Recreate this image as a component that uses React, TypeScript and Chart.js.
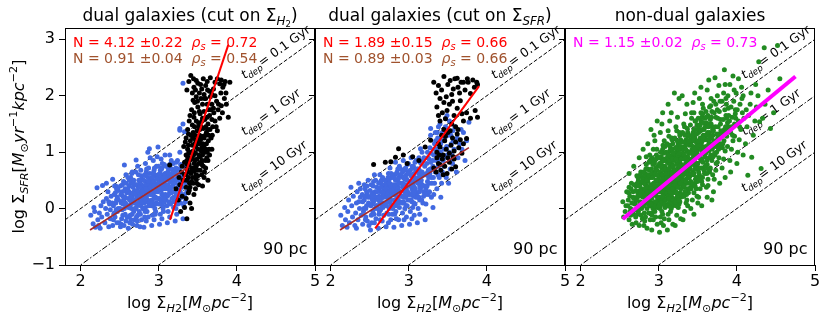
import { useEffect, useRef } from 'react';
import { Chart, registerables } from 'chart.js';

Chart.register(...registerables);

const FONT = '"DejaVu Sans", "Liberation Sans", sans-serif';
const CW = 830;
const CH = 322;

// ---- axes ----
const xTicks = [2, 3, 4, 5];
const yTicks = [-1, 0, 1, 2, 3];
const xMin = 1.8;
const xMax = 5;
const yMin = -1;
const yMax = 3.2;

// ---- depletion-time reference lines ----
const tdepGyr = [0.1, 1, 10];
const tdepNames = ['0.1 Gyr', '1 Gyr', '10 Gyr'];
const tdepLabelX = 4.1;

// ---- scatter data (flat x, y pairs) ----
const dualH2Blue = [
  2.13,-0.12, 2.16,-0.27, 2.18,-0.05, 2.19,-0.33, 2.17,0.02,
  2.21,0.37, 2.22,-0.2, 2.24,-0.08, 2.23,-0.3, 2.26,0.05, 2.27,-0.15, 2.28,0.41, 2.25,-0.35, 2.29,0.12,
  2.31,-0.25, 2.32,0.0, 2.33,0.18, 2.34,-0.1, 2.35,0.3, 2.36,-0.32, 2.37,0.08, 2.38,-0.18, 2.39,0.22, 2.33,0.45, 2.36,0.12, 2.38,-0.02,
  2.41,-0.3, 2.42,0.05, 2.43,0.25, 2.44,-0.15, 2.45,0.4, 2.46,0.15, 2.47,-0.05, 2.48,0.32, 2.49,-0.25, 2.41,0.52, 2.43,-0.08, 2.45,0.1, 2.47,0.2, 2.42,-0.2, 2.48,0.0, 2.46,0.35,
  2.51,-0.32, 2.52,0.1, 2.53,0.3, 2.54,-0.12, 2.55,0.48, 2.56,0.77, 2.57,0.2, 2.58,-0.22, 2.59,0.05, 2.51,0.4, 2.53,-0.02, 2.55,0.15, 2.57,0.35, 2.52,-0.28, 2.54,0.22, 2.56,0.0, 2.58,0.6, 2.59,0.28, 2.53,0.12, 2.57,-0.1,
  2.61,-0.35, 2.62,-0.15, 2.63,0.05, 2.64,0.25, 2.65,0.45, 2.66,0.65, 2.67,0.12, 2.68,-0.05, 2.69,0.32, 2.61,0.18, 2.62,0.4, 2.63,-0.25, 2.64,0.55, 2.65,0.0, 2.66,0.22, 2.67,0.38, 2.68,0.1, 2.69,-0.2, 2.62,0.3, 2.64,0.08, 2.66,-0.1, 2.68,0.5, 2.63,0.15, 2.67,0.28,
  2.71,0.86, 2.72,-0.3, 2.73,-0.12, 2.74,0.08, 2.75,0.28, 2.76,0.48, 2.77,0.68, 2.78,0.15, 2.79,0.35, 2.71,0.0, 2.72,0.2, 2.73,0.42, 2.74,0.6, 2.75,-0.05, 2.76,0.12, 2.77,0.3, 2.78,-0.2, 2.79,0.52, 2.71,0.25, 2.72,0.05, 2.73,0.75, 2.74,0.38, 2.75,0.18, 2.76,-0.32, 2.77,0.05, 2.78,0.42, 2.79,0.22, 2.74,0.28,
  2.81,-0.33, 2.82,-0.15, 2.83,0.02, 2.84,0.2, 2.85,0.38, 2.86,0.55, 2.87,0.72, 2.88,1.06, 2.89,0.9, 2.81,0.1, 2.82,0.3, 2.83,0.48, 2.84,0.65, 2.85,-0.05, 2.86,0.15, 2.87,0.32, 2.88,0.45, 2.89,0.25, 2.81,0.4, 2.82,0.6, 2.83,0.22, 2.84,-0.22, 2.85,0.12, 2.86,0.35, 2.87,0.05, 2.88,0.28, 2.89,0.5, 2.83,0.8, 2.86,1.0, 2.84,0.42,
  2.91,-0.3, 2.92,-0.12, 2.93,0.05, 2.94,0.22, 2.95,0.4, 2.96,0.58, 2.97,0.75, 2.98,0.92, 2.99,1.09, 2.91,0.15, 2.92,0.32, 2.93,0.5, 2.94,0.68, 2.95,0.0, 2.96,0.2, 2.97,0.38, 2.98,0.55, 2.99,0.3, 2.91,0.45, 2.92,0.62, 2.93,0.28, 2.94,-0.2, 2.95,0.18, 2.96,0.42, 2.97,0.1, 2.98,0.35, 2.99,0.6, 2.93,0.85, 2.96,-0.05, 2.94,0.48,
  3.01,-0.28, 3.02,-0.1, 3.03,0.08, 3.04,0.25, 3.05,0.42, 3.06,0.6, 3.07,0.78, 3.08,0.95, 3.09,0.35, 3.01,0.18, 3.02,0.38, 3.03,0.55, 3.04,0.72, 3.05,0.05, 3.06,0.22, 3.07,0.45, 3.08,0.62, 3.09,0.15, 3.01,0.5, 3.02,0.68, 3.03,0.32, 3.04,-0.18, 3.05,0.25, 3.06,0.48, 3.07,0.12, 3.08,0.4, 3.09,0.58, 3.03,0.88, 3.06,-0.05, 3.04,0.52,
  3.11,-0.25, 3.12,-0.05, 3.13,0.12, 3.14,0.3, 3.15,0.48, 3.16,0.85, 3.17,0.7, 3.18,0.4, 3.19,0.2, 3.11,0.22, 3.12,0.42, 3.13,0.6, 3.14,0.78, 3.15,0.08, 3.16,0.28, 3.17,0.5, 3.18,0.62, 3.19,0.02, 3.11,0.55, 3.12,0.72, 3.13,0.35, 3.14,-0.15, 3.15,0.32, 3.16,0.55, 3.17,0.18, 3.18,0.45, 3.19,0.65, 3.14,0.95,
  3.21,-0.22, 3.22,0.0, 3.23,0.18, 3.24,0.35, 3.25,0.52, 3.26,0.7, 3.27,1.0, 3.28,0.45, 3.29,0.25, 3.21,0.3, 3.22,0.5, 3.23,0.68, 3.24,0.85, 3.25,0.12, 3.26,0.32, 3.27,0.58, 3.28,0.1, 3.29,0.62, 3.22,0.72, 3.24,0.55, 3.27,1.39, 3.23,-0.1, 3.26,0.42, 3.28,0.78,
  3.31,-0.18, 3.32,0.05, 3.33,0.25, 3.34,0.45, 3.35,0.62, 3.31,2.22, 3.31,1.5, 3.27,1.42, 3.33,1.36, 3.36,0.3, 3.32,0.75, 3.34,0.12, 3.37,0.5, 3.3,0.38,
];
const dualH2BlueCore = [
  2.405,0.1, 2.425,-0.1, 2.445,0.28, 2.465,-0.25, 2.485,0.15, 2.435,0.4, 2.455,-0.02, 2.475,0.35,
  2.505,0.0, 2.515,0.25, 2.525,-0.18, 2.535,0.42, 2.545,0.08, 2.555,-0.3, 2.565,0.32, 2.575,0.1, 2.585,0.45, 2.595,-0.15,
  2.605,0.35, 2.615,0.02, 2.625,0.5, 2.635,-0.12, 2.645,0.2, 2.655,0.62, 2.665,-0.28, 2.675,0.45, 2.685,0.15, 2.695,0.0, 2.605,0.55, 2.645,-0.2,
  2.705,0.42, 2.715,-0.15, 2.725,0.32, 2.735,0.1, 2.745,0.5, 2.755,0.22, 2.765,-0.1, 2.775,0.58, 2.785,0.3, 2.795,0.0, 2.705,0.65, 2.725,-0.22, 2.755,0.38, 2.785,0.12,
  2.805,0.5, 2.815,0.2, 2.825,-0.05, 2.835,0.35, 2.845,0.7, 2.855,0.25, 2.865,-0.15, 2.875,0.45, 2.885,0.62, 2.895,0.1, 2.805,0.0, 2.835,0.58, 2.865,0.48, 2.895,0.38, 2.825,0.15,
  2.905,0.3, 2.915,0.55, 2.925,0.1, 2.935,0.4, 2.945,0.72, 2.955,-0.1, 2.965,0.3, 2.975,0.52, 2.985,0.18, 2.995,0.45, 2.905,0.05, 2.935,0.62, 2.965,0.08, 2.995,0.75, 2.915,0.25,
  3.005,0.35, 3.015,0.62, 3.025,0.15, 3.035,0.45, 3.045,0.8, 3.055,0.0, 3.065,0.35, 3.075,0.55, 3.085,0.25, 3.095,0.5, 3.005,0.08, 3.035,0.7, 3.065,0.18, 3.095,0.75,
  3.105,0.4, 3.115,0.65, 3.125,0.25, 3.135,0.5, 3.145,0.1, 3.155,0.38, 3.165,0.62, 3.175,0.3, 3.185,0.52, 3.195,0.12, 3.105,0.05, 3.145,0.7, 3.185,0.8,
  3.205,0.45, 3.215,0.62, 3.225,0.25, 3.235,0.5, 3.245,0.08, 3.255,0.4, 3.265,0.6, 3.275,0.3, 3.285,0.55, 3.295,0.2, 3.225,0.82, 3.265,0.18,
];

const dualH2Black = [
  3.36,-0.18, 3.28,-0.05, 3.33,0.02, 3.40,0.1, 3.25,0.15, 3.30,0.22, 3.38,0.28, 3.42,0.0, 3.35,0.18, 3.45,0.25,
  3.14,0.77, 3.22,0.35, 3.27,0.42, 3.31,0.5, 3.35,0.38, 3.38,0.55, 3.41,0.62, 3.44,0.45, 3.47,0.35, 3.50,0.58, 3.53,0.68, 3.56,0.4, 3.63,0.5, 3.29,0.65, 3.33,0.6, 3.36,0.7, 3.39,0.32, 3.42,0.48, 3.45,0.66, 3.48,0.52, 3.51,0.42, 3.55,0.6, 3.40,0.38, 3.26,0.55, 3.58,0.55,
  3.30,0.75, 3.33,0.82, 3.35,0.95, 3.37,1.05, 3.39,0.78, 3.41,0.88, 3.43,1.12, 3.45,0.72, 3.47,0.98, 3.49,1.18, 3.51,0.8, 3.53,0.92, 3.55,1.08, 3.57,0.75, 3.59,1.0, 3.61,1.15, 3.63,0.85, 3.65,0.95, 3.68,1.05, 3.32,1.1, 3.34,1.18, 3.36,0.85, 3.38,1.12, 3.40,0.98, 3.42,0.72, 3.44,1.02, 3.46,0.85, 3.48,0.75, 3.50,1.05, 3.52,1.15, 3.54,0.82, 3.56,0.95, 3.58,1.12, 3.60,0.72, 3.62,1.0, 3.37,0.92, 3.43,0.9, 3.49,0.88, 3.55,0.78, 3.46,1.15,
  3.35,1.25, 3.37,1.4, 3.39,1.55, 3.41,1.3, 3.43,1.48, 3.45,1.62, 3.47,1.22, 3.49,1.38, 3.51,1.52, 3.53,1.68, 3.55,1.28, 3.57,1.42, 3.59,1.58, 3.61,1.35, 3.63,1.5, 3.65,1.65, 3.67,1.25, 3.69,1.45, 3.72,1.55, 3.75,1.38, 3.78,1.6, 3.89,1.62, 3.40,1.65, 3.44,1.35, 3.48,1.55, 3.52,1.3, 3.56,1.6, 3.60,1.45, 3.64,1.3, 3.68,1.58, 3.46,1.45, 3.54,1.45, 3.62,1.62, 3.38,1.32, 3.58,1.25,
  3.42,1.75, 3.46,1.88, 3.50,1.8, 3.54,1.95, 3.58,1.72, 3.62,1.85, 3.66,1.98, 3.70,1.78, 3.74,1.9, 3.80,1.82, 3.48,1.98, 3.56,1.85, 3.64,1.75, 3.72,2.0, 3.44,1.92, 3.52,1.72, 3.60,1.95, 3.68,1.85, 3.76,1.75, 3.84,1.95,
  3.41,2.36, 3.48,2.27, 3.57,2.3, 3.72,2.24, 3.78,2.21, 3.91,2.24, 3.36,2.1, 3.45,2.15, 3.52,2.05, 3.60,2.18, 3.65,2.08, 3.70,2.12, 3.82,2.15, 3.86,2.05, 3.50,2.22, 3.62,2.25, 3.68,2.02, 3.75,2.3, 3.55,2.12, 3.43,2.05, 3.80,2.28, 3.58,2.02, 3.66,2.32, 3.85,2.25, 3.47,2.1,
];
const dualH2BlackCore = [
  3.355,0.5, 3.375,0.65, 3.395,0.85, 3.415,1.0, 3.435,0.55, 3.455,0.8, 3.475,1.1, 3.495,0.68, 3.515,0.95, 3.535,1.22, 3.555,0.85, 3.575,1.05, 3.595,1.3, 3.615,0.9, 3.635,1.2, 3.655,1.4,
  3.365,0.78, 3.385,1.0, 3.405,1.2, 3.425,0.68, 3.445,0.95, 3.465,1.3, 3.485,0.45, 3.505,1.25, 3.525,1.4, 3.545,1.02, 3.565,1.15, 3.585,0.65, 3.605,1.05, 3.625,1.4,
  3.345,0.6, 3.395,0.45, 3.435,1.25, 3.475,0.6, 3.515,1.45, 3.555,1.55, 3.595,0.85, 3.645,1.05, 3.685,1.3, 3.705,1.7, 3.735,1.45, 3.765,1.85, 3.795,2.05, 3.815,1.7,
  3.835,2.2, 3.865,1.85, 3.455,1.7, 3.495,1.9, 3.535,2.2, 3.585,1.95, 3.625,2.1, 3.665,1.75, 3.385,2.25, 3.445,2.3,
];

const dualSfrBlue = [
  2.13,-0.12, 2.15,-0.3, 2.18,0.02, 2.19,-0.2,
  2.21,-0.33, 2.22,-0.05, 2.23,0.15, 2.24,-0.25, 2.26,0.38, 2.27,0.05, 2.28,-0.15, 2.29,0.22,
  2.31,-0.3, 2.32,-0.08, 2.33,0.1, 2.34,0.3, 2.35,-0.2, 2.36,0.45, 2.37,0.0, 2.38,0.2, 2.39,-0.12, 2.33,-0.35, 2.36,0.12, 2.38,0.35,
  2.41,-0.28, 2.42,-0.05, 2.43,0.15, 2.44,0.35, 2.45,-0.15, 2.46,0.05, 2.47,0.25, 2.48,0.5, 2.49,-0.3, 2.41,0.12, 2.43,0.42, 2.45,0.0, 2.47,-0.22, 2.48,0.2, 2.46,0.3,
  2.51,-0.38, 2.52,-0.12, 2.53,0.08, 2.54,0.28, 2.55,0.48, 2.56,-0.25, 2.57,0.0, 2.58,0.18, 2.59,0.38, 2.51,0.2, 2.52,0.42, 2.54,-0.05, 2.55,0.12, 2.56,0.6, 2.57,0.3, 2.58,-0.18, 2.59,0.05, 2.53,0.25,
  2.61,-0.35, 2.62,-0.1, 2.63,0.1, 2.64,0.3, 2.65,0.5, 2.66,-0.22, 2.67,0.02, 2.68,0.2, 2.69,0.4, 2.61,0.15, 2.62,0.35, 2.63,0.6, 2.64,-0.02, 2.65,0.18, 2.66,0.42, 2.67,0.25, 2.68,-0.12, 2.69,0.08, 2.62,0.22, 2.64,0.48, 2.66,0.1, 2.68,0.32,
  2.71,-0.32, 2.72,-0.08, 2.73,0.12, 2.74,0.32, 2.75,0.52, 2.76,0.72, 2.77,-0.2, 2.78,0.05, 2.79,0.25, 2.71,0.45, 2.72,0.2, 2.73,0.4, 2.74,0.62, 2.75,0.0, 2.76,0.18, 2.77,0.35, 2.78,0.55, 2.79,-0.1, 2.71,0.1, 2.72,0.3, 2.73,0.5, 2.74,-0.25, 2.76,0.28, 2.77,0.08, 2.78,0.42, 2.79,0.6,
  2.81,-0.33, 2.82,-0.1, 2.83,0.1, 2.84,0.3, 2.85,0.5, 2.86,0.7, 2.87,-0.2, 2.88,0.02, 2.89,0.22, 2.81,0.42, 2.82,0.6, 2.83,0.82, 2.84,0.05, 2.85,0.2, 2.86,0.38, 2.87,0.55, 2.88,0.75, 2.89,0.12, 2.81,0.25, 2.82,0.35, 2.83,0.5, 2.84,-0.18, 2.85,0.65, 2.86,0.15, 2.87,0.32, 2.88,0.45, 2.89,0.6, 2.84,0.42,
  2.91,-0.3, 2.92,-0.08, 2.93,0.12, 2.94,0.32, 2.95,0.52, 2.96,0.72, 2.97,-0.15, 2.98,0.05, 2.99,0.25, 2.91,0.45, 2.92,0.65, 2.93,0.85, 2.94,0.1, 2.95,0.28, 2.96,0.42, 2.97,0.6, 2.98,0.78, 2.99,0.15, 2.91,0.22, 2.92,0.38, 2.93,0.55, 2.94,-0.2, 2.95,0.7, 2.96,0.2, 2.97,0.35, 2.98,0.5, 2.99,0.65, 2.95,0.0,
  3.01,-0.28, 3.02,-0.05, 3.03,0.15, 3.04,0.35, 3.05,0.55, 3.06,0.75, 3.07,-0.12, 3.08,0.08, 3.09,0.28, 3.01,0.48, 3.02,0.68, 3.03,0.9, 3.04,0.12, 3.05,0.3, 3.06,0.45, 3.07,0.62, 3.08,0.82, 3.09,0.2, 3.01,0.25, 3.02,0.4, 3.03,0.58, 3.04,-0.18, 3.05,0.72, 3.06,0.22, 3.07,0.38, 3.08,0.52, 3.09,0.68, 3.05,0.02,
  3.11,-0.25, 3.12,0.0, 3.13,0.2, 3.14,0.4, 3.15,0.6, 3.16,0.8, 3.17,1.0, 3.18,0.1, 3.19,0.3, 3.11,0.5, 3.12,0.7, 3.13,0.9, 3.14,0.15, 3.15,0.35, 3.16,0.5, 3.17,0.65, 3.18,0.85, 3.19,0.22, 3.11,0.28, 3.12,0.45, 3.13,0.62, 3.14,-0.1, 3.15,1.06, 3.17,0.42,
  3.21,-0.2, 3.22,0.08, 3.23,0.28, 3.24,0.48, 3.25,0.68, 3.26,0.88, 3.27,1.08, 3.28,1.3, 3.29,0.2, 3.21,0.4, 3.22,0.6, 3.23,0.8, 3.24,1.0, 3.25,0.25, 3.26,0.45, 3.27,0.62, 3.28,0.82, 3.29,0.55, 3.28,1.42, 3.22,0.35,
  3.31,0.02, 3.32,0.25, 3.33,0.45, 3.34,0.65, 3.35,0.85, 3.36,1.05, 3.37,1.25, 3.38,1.45, 3.39,0.55, 3.31,0.75, 3.32,0.95, 3.33,1.15, 3.34,1.35, 3.36,0.35, 3.38,0.75, 3.40,1.5,
  3.41,0.2, 3.42,0.45, 3.43,0.65, 3.44,0.85, 3.45,1.05, 3.46,1.25, 3.47,1.45, 3.48,0.55, 3.49,0.95, 3.41,1.15, 3.43,1.35, 3.45,0.75, 3.47,1.6, 3.49,1.65,
  3.51,0.45, 3.53,0.7, 3.55,0.95, 3.57,1.2, 3.59,1.45, 3.52,1.0, 3.54,1.3, 3.56,0.8, 3.58,1.05, 3.52,1.55,
  3.61,0.65, 3.63,0.9, 3.65,1.15, 3.67,1.4, 3.62,1.25, 3.68,1.05,
  3.72,0.85, 3.74,1.2, 3.77,1.53, 3.7,1.35,
];
const dualSfrBlueCore = [
  2.405,0.25, 2.425,0.0, 2.445,-0.2, 2.465,0.4, 2.485,0.1, 2.435,0.22,
  2.505,0.32, 2.515,0.05, 2.525,-0.25, 2.535,0.15, 2.545,0.4, 2.555,-0.1, 2.565,0.22, 2.575,0.5, 2.585,0.05, 2.595,0.3,
  2.605,0.0, 2.615,0.45, 2.625,0.2, 2.635,-0.2, 2.645,0.38, 2.655,0.05, 2.665,0.55, 2.675,0.3, 2.685,0.1, 2.695,0.5, 2.625,-0.05,
  2.705,0.35, 2.715,0.05, 2.725,0.25, 2.735,0.55, 2.745,-0.1, 2.755,0.45, 2.765,0.15, 2.775,0.62, 2.785,0.32, 2.795,0.0, 2.745,0.2, 2.775,0.4,
  2.805,0.55, 2.815,0.15, 2.825,0.4, 2.835,-0.05, 2.845,0.62, 2.855,0.35, 2.865,0.1, 2.875,0.45, 2.885,0.3, 2.895,0.7, 2.835,0.25, 2.865,0.52,
  2.905,0.6, 2.915,0.1, 2.925,0.45, 2.935,0.2, 2.945,0.68, 2.955,0.38, 2.965,0.05, 2.975,0.52, 2.985,0.3, 2.995,0.8, 2.935,0.55, 2.965,0.25,
  3.005,0.62, 3.015,0.15, 3.025,0.48, 3.035,0.25, 3.045,0.75, 3.055,0.4, 3.065,0.1, 3.075,0.55, 3.085,0.35, 3.095,0.85, 3.035,0.6, 3.065,0.3,
  3.105,0.7, 3.115,0.2, 3.125,0.55, 3.135,0.3, 3.145,0.82, 3.155,0.45, 3.165,0.15, 3.175,0.58, 3.185,0.4, 3.195,0.9, 3.135,0.68,
  3.205,0.75, 3.215,0.25, 3.225,0.62, 3.235,0.4, 3.245,0.9, 3.255,0.55, 3.265,0.3, 3.275,0.7, 3.285,0.98, 3.295,0.45,
  3.305,0.85, 3.315,0.55, 3.325,1.05, 3.335,0.7, 3.345,1.2, 3.355,0.95, 3.365,1.35, 3.375,0.6, 3.385,1.1, 3.395,0.88,
  3.405,1.0, 3.425,1.2, 3.445,0.9, 3.465,1.35, 3.485,1.1, 3.505,1.3, 3.525,0.85, 3.545,1.15, 3.565,1.38, 3.585,0.9,
];

const dualSfrBlack = [
  2.55,0.78, 2.70,0.82, 2.77,0.83, 2.87,1.06, 2.83,0.91, 2.98,0.8, 3.05,0.92, 3.13,0.85, 3.21,1.09, 3.28,1.21, 2.93,0.95,
  3.32,0.72, 3.35,0.65, 3.38,0.8, 3.41,0.68, 3.43,0.88, 3.46,0.75, 3.49,0.62, 3.52,0.82, 3.55,0.7, 3.58,0.88, 3.36,0.9, 3.44,0.6, 3.5,0.9, 3.4,0.78, 3.6,0.74,
  3.36,1.0, 3.38,1.15, 3.40,1.09, 3.42,1.3, 3.44,0.95, 3.46,1.2, 3.48,1.05, 3.50,1.35, 3.52,0.98, 3.54,1.12, 3.56,1.25, 3.58,1.02, 3.60,1.18, 3.62,1.32, 3.64,1.08, 3.66,1.22, 3.68,0.98, 3.70,1.15, 3.74,1.24, 3.45,1.4, 3.53,1.38, 3.39,0.95, 3.57,0.92, 3.63,1.4, 3.47,1.28,
  3.36,1.8, 3.40,1.55, 3.43,1.7, 3.47,1.59, 3.49,1.74, 3.52,1.85, 3.55,1.5, 3.58,1.65, 3.62,1.78, 3.66,1.91, 3.70,1.55, 3.74,1.7, 3.79,1.6, 3.85,1.74, 3.88,1.62, 3.45,1.88, 3.60,1.45, 3.68,1.68, 3.38,1.65, 3.56,1.9,
  3.32,2.24, 3.38,2.18, 3.45,2.34, 3.59,2.3, 3.62,2.31, 3.67,2.24, 3.70,2.24, 3.76,2.24, 3.79,2.04, 3.87,2.24, 3.88,2.2, 3.35,2.05, 3.42,2.1, 3.50,2.2, 3.55,2.02, 3.63,2.15, 3.72,2.1, 3.82,2.28, 3.48,1.98, 3.57,2.12, 3.65,2.05, 3.75,2.3, 3.84,2.15, 3.53,2.27, 3.40,1.95,
];

const nonDualGreen = [
  2.55,-0.15, 2.58,0.05, 2.54,0.12, 2.59,0.3, 2.57,-0.05,
  2.62,-0.2, 2.64,0.0, 2.61,0.15, 2.67,0.3, 2.65,0.45, 2.68,-0.1, 2.63,0.22, 2.69,0.08, 2.66,-0.28, 2.62,0.38, 2.68,0.18, 2.64,-0.12,
  2.71,-0.25, 2.73,-0.1, 2.75,0.05, 2.72,0.2, 2.78,0.35, 2.74,0.5, 2.77,0.65, 2.79,-0.18, 2.76,0.12, 2.71,0.4, 2.73,0.28, 2.78,0.0, 2.75,-0.3, 2.79,0.22, 2.72,0.58, 2.77,0.45, 2.74,-0.05, 2.76,0.32, 2.7,0.1, 2.79,0.55,
  2.81,-0.3, 2.83,-0.15, 2.85,0.0, 2.82,0.1, 2.87,0.25, 2.84,0.4, 2.88,0.55, 2.86,0.7, 2.89,0.85, 2.81,0.3, 2.83,0.62, 2.85,0.18, 2.87,-0.08, 2.88,0.35, 2.82,-0.22, 2.84,0.78, 2.86,0.48, 2.89,0.05, 2.8,0.2, 2.83,0.42, 2.87,0.12, 2.85,-0.35, 2.88,0.68, 2.81,0.52, 2.86,0.28, 2.89,-0.2, 2.84,0.92, 2.82,0.6,
  2.91,-0.38, 2.93,-0.2, 2.95,-0.05, 2.92,0.1, 2.97,0.22, 2.94,0.35, 2.98,0.48, 2.96,0.6, 2.99,0.75, 2.91,0.9, 2.93,1.05, 2.95,1.2, 2.97,0.05, 2.92,0.42, 2.98,0.3, 2.94,0.65, 2.96,-0.15, 2.99,0.15, 2.9,0.55, 2.93,0.82, 2.97,0.95, 2.95,0.38, 2.91,0.18, 2.98,-0.28, 2.94,0.0, 2.96,0.72, 2.92,0.28, 2.99,0.52, 2.97,0.4, 2.93,0.62, 2.95,0.85, 2.91,-0.08, 2.98,0.12, 2.96,0.25, 2.94,1.3,
  3.01,-0.42, 3.03,-0.25, 3.05,-0.1, 3.02,0.05, 3.07,0.18, 3.04,0.3, 3.08,0.42, 3.06,0.55, 3.09,0.68, 3.01,0.8, 3.03,0.92, 3.05,1.05, 3.07,1.2, 3.02,1.35, 3.04,1.5, 3.06,0.1, 3.08,0.25, 3.0,0.38, 3.09,0.5, 3.03,0.62, 3.05,0.75, 3.07,0.88, 3.01,0.2, 3.04,-0.05, 3.06,-0.3, 3.08,0.02, 3.02,0.45, 3.09,0.85, 3.05,0.35, 3.03,0.15, 3.07,0.6, 3.01,0.58, 3.04,0.72, 3.06,0.98, 3.08,1.1, 3.02,-0.15, 3.05,0.48, 3.09,0.28, 3.03,0.4, 3.07,-0.18,
  3.11,-0.38, 3.13,-0.2, 3.15,-0.05, 3.12,0.08, 3.17,0.2, 3.14,0.32, 3.18,0.45, 3.16,0.58, 3.19,0.7, 3.11,0.82, 3.13,0.95, 3.15,1.08, 3.17,1.22, 3.12,1.38, 3.14,1.55, 3.16,1.7, 3.18,0.12, 3.1,0.28, 3.19,0.4, 3.13,0.52, 3.15,0.65, 3.17,0.78, 3.11,0.9, 3.14,1.02, 3.16,0.0, 3.18,-0.28, 3.12,0.22, 3.19,0.95, 3.15,0.38, 3.13,0.68, 3.17,0.5, 3.11,0.6, 3.14,0.15, 3.16,0.85, 3.18,1.15, 3.12,-0.1, 3.19,0.62, 3.15,0.25, 3.13,1.28, 3.17,0.05, 3.11,0.45, 3.16,0.75,
  3.21,-0.3, 3.23,-0.12, 3.25,0.02, 3.22,0.15, 3.27,0.28, 3.24,0.4, 3.28,0.52, 3.26,0.65, 3.29,0.78, 3.21,0.9, 3.23,1.02, 3.25,1.15, 3.27,1.3, 3.22,1.45, 3.24,1.62, 3.26,1.95, 3.28,0.2, 3.2,0.35, 3.29,0.48, 3.23,0.6, 3.25,0.72, 3.27,0.85, 3.21,0.98, 3.24,1.1, 3.26,0.08, 3.28,-0.18, 3.22,0.3, 3.29,1.05, 3.25,0.45, 3.23,0.8, 3.27,0.58, 3.21,0.68, 3.24,0.25, 3.26,0.92, 3.28,1.22, 3.22,0.05, 3.29,0.7, 3.25,0.38, 3.23,1.38, 3.27,0.12, 3.21,0.55, 3.26,0.82,
  3.31,-0.2, 3.33,-0.05, 3.35,0.1, 3.32,0.22, 3.37,0.35, 3.34,0.48, 3.38,0.6, 3.36,0.72, 3.39,0.85, 3.31,0.98, 3.33,1.1, 3.35,1.22, 3.37,1.35, 3.32,1.5, 3.34,1.68, 3.36,1.85, 3.38,0.28, 3.3,0.42, 3.39,0.55, 3.33,0.68, 3.35,0.8, 3.37,0.92, 3.31,1.05, 3.34,1.18, 3.36,0.15, 3.38,1.0, 3.32,0.38, 3.39,1.12, 3.35,0.52, 3.33,0.88, 3.37,0.65, 3.31,0.75, 3.34,0.3, 3.36,1.02, 3.38,1.3, 3.32,0.62, 3.39,0.78, 3.35,0.45, 3.33,1.45, 3.37,0.05,
  3.41,0.0, 3.43,0.15, 3.45,0.28, 3.42,0.4, 3.47,0.52, 3.44,0.65, 3.48,0.78, 3.46,0.9, 3.49,1.02, 3.41,1.15, 3.43,1.28, 3.45,1.4, 3.47,1.55, 3.42,1.7, 3.44,1.88, 3.46,2.05, 3.48,0.35, 3.4,0.58, 3.49,0.7, 3.43,0.82, 3.45,0.95, 3.47,1.08, 3.41,1.22, 3.44,1.35, 3.46,0.45, 3.48,1.18, 3.42,0.88, 3.49,1.48, 3.45,0.62, 3.43,1.0, 3.47,0.75, 3.41,0.48, 3.44,1.1, 3.46,1.25, 3.48,0.95, 3.42,1.6, 3.49,0.22, 3.45,1.7,
  3.51,0.2, 3.53,0.35, 3.55,0.48, 3.52,0.6, 3.57,0.72, 3.54,0.85, 3.58,0.98, 3.56,1.1, 3.59,1.22, 3.51,1.35, 3.53,1.48, 3.55,1.62, 3.57,1.78, 3.52,1.95, 3.54,2.15, 3.56,0.55, 3.58,0.68, 3.5,0.8, 3.59,0.92, 3.53,1.05, 3.55,1.18, 3.57,1.3, 3.51,1.42, 3.54,1.55, 3.56,0.42, 3.58,1.4, 3.52,1.08, 3.59,1.6, 3.55,0.88, 3.53,1.25, 3.57,1.0, 3.51,0.65, 3.54,1.7, 3.56,1.85,
  3.61,0.38, 3.63,0.52, 3.65,0.65, 3.62,0.78, 3.67,0.9, 3.64,1.02, 3.68,1.15, 3.66,1.28, 3.69,1.4, 3.61,1.52, 3.63,1.65, 3.65,1.8, 3.67,1.95, 3.62,2.1, 3.64,2.28, 3.66,0.72, 3.68,0.85, 3.6,0.98, 3.69,1.1, 3.63,1.22, 3.65,1.35, 3.67,1.5, 3.61,1.62, 3.64,1.15, 3.66,1.58, 3.68,1.72, 3.62,1.3, 3.69,0.6, 3.63,0.41,
  3.71,0.52, 3.73,0.68, 3.75,0.82, 3.72,0.95, 3.77,1.08, 3.74,1.2, 3.78,1.32, 3.76,1.45, 3.79,1.58, 3.71,1.7, 3.73,1.85, 3.75,2.0, 3.77,2.18, 3.72,2.32, 3.74,1.0, 3.76,1.12, 3.78,1.25, 3.7,1.38, 3.79,1.5, 3.73,1.62, 3.75,1.75, 3.77,0.9,
  3.81,0.72, 3.83,0.88, 3.85,1.02, 3.82,1.15, 3.87,1.28, 3.84,1.4, 3.88,1.52, 3.86,1.65, 3.89,1.78, 3.81,1.9, 3.83,2.05, 3.85,2.2, 3.84,2.46, 3.82,1.35, 3.87,1.6, 3.88,1.1, 3.86,1.95, 3.89,1.45,
  3.91,0.85, 3.93,1.05, 3.95,1.2, 3.92,1.35, 3.97,1.5, 3.94,1.62, 3.98,1.75, 3.96,1.9, 3.99,2.05, 3.91,2.2, 3.93,1.45, 3.97,1.28, 3.95,2.35, 3.98,1.68,
  4.01,1.0, 4.03,1.22, 4.05,1.4, 4.02,1.55, 4.07,1.7, 4.04,1.85, 4.08,2.0, 4.06,2.15, 4.09,1.6, 4.02,2.3,
  4.11,1.15, 4.14,0.59, 4.13,1.45, 4.15,1.65, 4.17,1.85, 4.19,0.91, 4.18,2.05, 4.12,1.75,
  4.21,1.3, 4.23,1.55, 4.25,1.8, 4.27,2.0, 4.29,1.54, 4.24,2.2,
  4.31,0.71, 4.33,1.6, 4.36,1.85, 4.43,1.42, 4.4,2.1, 4.52,2.89, 4.47,1.7, 4.55,2.3, 4.35,2.85, 4.28,2.6,
];
const nonDualGreenCore = [
  2.605,0.05, 2.615,0.28, 2.635,-0.05, 2.645,0.35, 2.655,0.1, 2.675,0.2, 2.685,0.42, 2.695,-0.02,
  2.705,0.32, 2.715,0.15, 2.725,0.45, 2.735,0.02, 2.745,0.22, 2.755,0.4, 2.765,0.6, 2.775,-0.12, 2.785,0.28, 2.795,0.1, 2.705,-0.15, 2.735,0.55, 2.765,0.25, 2.785,0.48,
  2.805,0.05, 2.815,0.45, 2.825,0.25, 2.835,0.7, 2.845,0.12, 2.855,0.55, 2.865,0.38, 2.875,0.82, 2.885,0.18, 2.895,0.42, 2.805,0.65, 2.815,-0.08, 2.825,0.35, 2.835,0.15, 2.845,0.5, 2.855,0.3, 2.865,0.08, 2.875,0.6, 2.885,0.95, 2.895,0.3,
  2.905,0.35, 2.915,0.62, 2.925,0.0, 2.935,0.45, 2.945,0.8, 2.955,0.12, 2.965,0.5, 2.975,0.68, 2.985,0.2, 2.995,0.9, 2.905,0.7, 2.915,-0.12, 2.925,0.55, 2.935,0.25, 2.945,0.05, 2.955,0.62, 2.965,0.32, 2.975,1.05, 2.985,0.6, 2.995,0.4, 2.905,0.08, 2.925,0.78, 2.945,0.42, 2.965,0.88, 2.985,0.02, 2.915,0.3,
  3.005,0.3, 3.015,0.65, 3.025,0.1, 3.035,0.5, 3.045,0.88, 3.055,0.2, 3.065,0.4, 3.075,0.75, 3.085,0.55, 3.095,1.0, 3.005,0.9, 3.015,0.0, 3.025,0.75, 3.035,0.32, 3.045,0.6, 3.055,1.12, 3.065,0.68, 3.075,0.35, 3.085,0.15, 3.095,0.45, 3.005,0.05, 3.015,0.42, 3.025,1.0, 3.035,0.82, 3.045,0.22, 3.055,0.52, 3.065,0.85, 3.075,0.08, 3.085,0.7, 3.095,0.62,
  3.105,0.55, 3.115,0.35, 3.125,0.8, 3.135,0.1, 3.145,0.62, 3.155,0.92, 3.165,0.4, 3.175,1.05, 3.185,0.28, 3.195,0.85, 3.105,1.15, 3.115,0.05, 3.125,0.5, 3.135,0.72, 3.145,0.3, 3.155,0.48, 3.165,1.25, 3.175,0.6, 3.185,0.75, 3.195,0.15, 3.105,0.4, 3.115,0.95, 3.125,0.18, 3.135,1.12, 3.145,0.85, 3.155,0.02, 3.165,0.62, 3.175,0.35, 3.185,0.98, 3.195,0.52, 3.135,0.42, 3.175,0.88,
  3.205,0.6, 3.215,0.42, 3.225,0.88, 3.235,0.2, 3.245,0.7, 3.255,1.05, 3.265,0.5, 3.275,1.18, 3.285,0.35, 3.295,0.92, 3.205,1.25, 3.215,0.12, 3.225,0.55, 3.235,0.78, 3.245,0.38, 3.255,0.6, 3.265,1.35, 3.275,0.72, 3.285,0.88, 3.295,0.25, 3.205,0.48, 3.215,1.08, 3.225,0.28, 3.235,1.2, 3.245,0.95, 3.255,0.15, 3.265,0.75, 3.275,0.45, 3.285,1.1, 3.295,0.62, 3.235,0.52, 3.265,0.98,
  3.305,0.7, 3.315,0.5, 3.325,0.95, 3.335,0.3, 3.345,0.8, 3.355,1.15, 3.365,0.6, 3.375,1.28, 3.385,0.45, 3.395,1.0, 3.305,1.35, 3.315,0.22, 3.325,0.65, 3.335,0.88, 3.345,0.48, 3.355,0.7, 3.365,1.42, 3.375,0.82, 3.385,0.98, 3.395,0.35, 3.305,0.58, 3.315,1.18, 3.325,0.4, 3.335,1.3, 3.345,1.05, 3.355,0.25, 3.365,0.85, 3.375,0.55, 3.385,1.2, 3.395,0.72,
  3.405,0.82, 3.415,0.62, 3.425,1.05, 3.435,0.42, 3.445,0.92, 3.455,1.28, 3.465,0.7, 3.475,1.4, 3.485,0.55, 3.495,1.12, 3.405,1.48, 3.415,0.35, 3.425,0.78, 3.435,1.0, 3.445,0.6, 3.455,0.85, 3.465,1.55, 3.475,0.95, 3.485,1.1, 3.495,0.48, 3.405,0.7, 3.425,1.3, 3.445,1.2, 3.465,0.4, 3.485,1.32, 3.415,0.98, 3.455,1.05, 3.495,0.8,
  3.505,0.95, 3.515,0.72, 3.525,1.18, 3.535,0.55, 3.545,1.05, 3.555,1.4, 3.565,0.82, 3.575,1.52, 3.585,0.62, 3.595,1.25, 3.505,1.6, 3.515,0.5, 3.525,0.9, 3.535,1.12, 3.545,0.72, 3.555,0.98, 3.565,1.68, 3.575,1.08, 3.585,1.3, 3.595,0.75, 3.505,1.2, 3.535,1.38, 3.565,1.25, 3.595,1.45,
  3.605,1.1, 3.615,0.85, 3.625,1.35, 3.635,0.7, 3.645,1.22, 3.655,1.5, 3.665,0.95, 3.675,1.62, 3.685,1.05, 3.695,1.3, 3.605,1.72, 3.615,0.62, 3.625,1.05, 3.635,1.45, 3.645,0.9, 3.655,1.12, 3.665,1.82, 3.675,1.25, 3.685,1.45, 3.695,0.92,
  3.705,1.2, 3.715,0.98, 3.725,1.45, 3.735,0.8, 3.745,1.32, 3.755,1.6, 3.765,1.05, 3.775,1.72, 3.785,1.15, 3.795,1.38, 3.705,1.9, 3.725,1.1, 3.755,1.25, 3.785,1.9,
  3.805,1.3, 3.815,1.08, 3.825,1.58, 3.835,1.2, 3.845,1.75, 3.855,1.45, 3.865,1.85, 3.875,1.38, 3.885,2.0, 3.895,1.65,
  3.905,1.55, 3.925,1.8, 3.945,1.3, 3.965,2.1, 3.985,1.6, 4.005,1.75, 4.035,1.45, 4.065,1.95,
];
const nonDualGreenEdge = [
  2.62,0.62, 2.68,0.75, 2.75,0.9, 2.8,1.05, 2.86,1.15, 2.9,1.4, 2.98,1.55, 3.05,1.7, 3.12,1.85, 3.2,2.05, 3.3,2.0,
  3.45,-0.1, 3.55,0.05, 3.62,0.2, 3.7,0.3, 3.78,0.45, 3.85,0.55, 3.92,0.65, 4.0,0.8, 4.08,0.95, 3.5,0.1, 3.68,0.15,
];

// ---- fit lines (x0, y0, x1, y1) ----
const fitH2Red = [3.144, -0.2, 3.89, 2.9];
const fitH2Brown = [2.12, -0.38, 3.35, 0.71];
const fitSfrRed = [2.57, -0.35, 3.9, 2.17];
const fitSfrBrown = [2.12, -0.38, 3.77, 1.08];
const fitNonDual = [2.54, -0.185, 4.75, 2.34];

// ---- fit statistics: [N, error, rho_s] ----
const statsH2 = [['4.12', '0.22', '0.72'], ['0.91', '0.04', '0.54']];
const statsSfr = [['1.89', '0.15', '0.66'], ['0.89', '0.03', '0.66']];
const statsNonDual = [['1.15', '0.02', '0.73']];
const resolutionLabel = '90 pc';

const BLUE = '#4169e1';
const RED = '#ff0000';
const BROWN = '#a52a2a';
const SIENNA = '#a0522d';
const GREEN = '#228b22';
const MAGENTA = '#ff00ff';

type Seg = { t: string; it?: boolean; s?: number; dy?: number };
const SUB = { s: 0.7, dy: 0.22 };
const SUP = { s: 0.7, dy: -0.42 };

function segFont(seg: Seg, size: number) {
  return `${seg.it ? 'italic ' : ''}${size * (seg.s ?? 1)}px ${FONT}`;
}

function drawRich(
  ctx: CanvasRenderingContext2D,
  segs: Seg[],
  x: number,
  y: number,
  size: number,
  color: string,
  align: 'left' | 'center' | 'right',
  angle = 0
) {
  ctx.save();
  let total = 0;
  const widths = segs.map((sg) => {
    ctx.font = segFont(sg, size);
    const w = ctx.measureText(sg.t).width;
    total += w;
    return w;
  });
  ctx.translate(x, y);
  ctx.rotate(angle);
  ctx.fillStyle = color;
  ctx.textBaseline = 'alphabetic';
  ctx.textAlign = 'left';
  let cx = align === 'center' ? -total / 2 : align === 'right' ? -total : 0;
  segs.forEach((sg, i) => {
    ctx.font = segFont(sg, size);
    ctx.fillText(sg.t, cx, (sg.dy ?? 0) * size);
    cx += widths[i];
  });
  ctx.restore();
}

const toPts = (arr: number[]) => {
  const out: { x: number; y: number }[] = [];
  for (let i = 0; i + 1 < arr.length; i += 2) out.push({ x: arr[i], y: arr[i + 1] });
  return out;
};

const fmtTick = (v: number) => (v < 0 ? '\u2212' + Math.abs(v) : String(v));

const xLabel: Seg[] = [
  { t: 'log \u03a3' }, { t: 'H', it: true, ...SUB }, { t: '2', ...SUB }, { t: '[' }, { t: 'M', it: true },
  { t: '\u2299', ...SUB }, { t: 'pc', it: true }, { t: '\u22122', ...SUP }, { t: ']' },
];
const yLabel: Seg[] = [
  { t: 'log \u03a3' }, { t: 'SFR', it: true, ...SUB }, { t: '[' }, { t: 'M', it: true }, { t: '\u2299', ...SUB },
  { t: 'yr', it: true }, { t: '\u22121', ...SUP }, { t: 'kpc', it: true }, { t: '\u22122', ...SUP }, { t: ']' },
];

interface Panel {
  left: number;
  right: number;
  title: Seg[];
  showY: boolean;
  scatter: { data: number[]; color: string }[];
  fits: { data: number[]; color: string; width: number }[];
  stats: { vals: string[]; color: string }[];
}

const panels: Panel[] = [
  {
    left: 65,
    right: 315,
    title: [{ t: 'dual galaxies (cut on \u03a3' }, { t: 'H', it: true, ...SUB }, { t: '2', s: 0.5, dy: 0.34 }, { t: ')' }],
    showY: true,
    scatter: [{ data: [...dualH2Black, ...dualH2BlackCore], color: '#000' }, { data: [...dualH2Blue, ...dualH2BlueCore], color: BLUE }],
    fits: [{ data: fitH2Red, color: RED, width: 2 }, { data: fitH2Brown, color: BROWN, width: 1.6 }],
    stats: [{ vals: statsH2[0], color: RED }, { vals: statsH2[1], color: SIENNA }],
  },
  {
    left: 315,
    right: 565,
    title: [{ t: 'dual galaxies (cut on \u03a3' }, { t: 'SFR', it: true, ...SUB }, { t: ')' }],
    showY: false,
    scatter: [{ data: dualSfrBlack, color: '#000' }, { data: [...dualSfrBlue, ...dualSfrBlueCore], color: BLUE }],
    fits: [{ data: fitSfrRed, color: RED, width: 2 }, { data: fitSfrBrown, color: BROWN, width: 1.6 }],
    stats: [{ vals: statsSfr[0], color: RED }, { vals: statsSfr[1], color: SIENNA }],
  },
  {
    left: 565,
    right: 815,
    title: [{ t: 'non-dual galaxies' }],
    showY: false,
    scatter: [{ data: [...nonDualGreen, ...nonDualGreenCore, ...nonDualGreenEdge], color: GREEN }],
    fits: [{ data: fitNonDual, color: MAGENTA, width: 4 }],
    stats: [{ vals: statsNonDual[0], color: MAGENTA }],
  },
];

const TOP = 28;
const BOTTOM = 265;
const X_AXIS_H = 30;

function makeChart(canvas: HTMLCanvasElement, p: Panel) {
  const yW = p.showY ? p.left : 8;
  const datasets: any[] = [];
  p.fits.forEach((f, i) => {
    datasets.push({
      type: 'line',
      data: [{ x: f.data[0], y: f.data[1] }, { x: f.data[2], y: f.data[3] }],
      borderColor: f.color,
      borderWidth: f.width,
      pointRadius: 0,
      fill: false,
      order: i,
    });
  });
  p.scatter.forEach((s, i) => {
    datasets.push({
      type: 'scatter',
      data: toPts(s.data),
      backgroundColor: s.color,
      borderWidth: 0,
      pointRadius: 2.5,
      pointBorderWidth: 0,
      order: 5 + i,
    });
  });
  tdepGyr.forEach((t, i) => {
    const off = -3 - Math.log10(t);
    datasets.push({
      type: 'line',
      data: [{ x: xMin, y: xMin + off }, { x: xMax, y: xMax + off }],
      borderColor: '#000',
      borderWidth: 1,
      borderDash: i === 1 ? [6, 2, 1.5, 2] : [4, 2],
      pointRadius: 0,
      fill: false,
      order: 20 + i,
    });
  });

  const annot = {
    id: 'annot',
    beforeDatasetsDraw(chart: any) {
      const ctx = chart.ctx as CanvasRenderingContext2D;
      const xs = chart.scales.x;
      const ys = chart.scales.y;
      tdepGyr.forEach((t, i) => {
        const off = -3 - Math.log10(t);
        const ax = xs.getPixelForValue(2);
        const ay = ys.getPixelForValue(2 + off);
        const bx = xs.getPixelForValue(4);
        const by = ys.getPixelForValue(4 + off);
        const ang = Math.atan2(by - ay, bx - ax);
        const px = xs.getPixelForValue(tdepLabelX);
        const py = ys.getPixelForValue(tdepLabelX + off + 0.19);
        drawRich(ctx, [{ t: 't', it: true }, { t: 'dep', it: true, ...SUB }, { t: '= ' + tdepNames[i] }], px, py, 12.5, '#000', 'left', ang);
      });
    },
    afterDraw(chart: any) {
      const ctx = chart.ctx as CanvasRenderingContext2D;
      const a = chart.chartArea;
      ctx.save();
      ctx.strokeStyle = '#000';
      ctx.lineWidth = 1;
      ctx.strokeRect(Math.round(a.left) + 0.5, Math.round(a.top) + 0.5, Math.round(a.right - a.left) - 1, Math.round(a.bottom - a.top));
      ctx.restore();
      const cx = (a.left + a.right) / 2;
      drawRich(ctx, p.title, cx, 21, 17, '#000', 'center');
      drawRich(ctx, xLabel, cx, 308, 16, '#000', 'center');
      if (p.showY) {
        drawRich(ctx, yLabel, 24, (a.top + a.bottom) / 2, 16, '#000', 'center', -Math.PI / 2);
      }
      p.stats.forEach((s, i) => {
        drawRich(
          ctx,
          [{ t: `N = ${s.vals[0]} \u00b1${s.vals[1]}  ` }, { t: '\u03c1', it: true }, { t: 's', it: true, ...SUB }, { t: ` = ${s.vals[2]}` }],
          a.left + 8,
          a.top + 19 + i * 16,
          14,
          s.color,
          'left'
        );
      });
      drawRich(ctx, [{ t: resolutionLabel }], a.right - 7.5, a.bottom - 11.5, 16, '#000', 'right');
    },
  };

  return new Chart(canvas, {
    type: 'scatter',
    data: { datasets },
    options: {
      animation: false,
      responsive: false,
      maintainAspectRatio: false,
      events: [],
      layout: {
        padding: { left: p.left - yW, right: CW - p.right, top: TOP, bottom: CH - BOTTOM - X_AXIS_H },
      },
      plugins: { legend: { display: false }, tooltip: { enabled: false }, title: { display: false } },
      scales: {
        x: {
          type: 'linear',
          min: xMin,
          max: xMax,
          afterBuildTicks: (s: any) => {
            s.ticks = xTicks.map((v) => ({ value: v }));
          },
          afterFit: (s: any) => {
            s.height = X_AXIS_H;
          },
          grid: { drawOnChartArea: false, drawTicks: true, tickLength: 6, color: '#000', lineWidth: 1 },
          border: { display: false },
          ticks: {
            color: '#000',
            font: { family: FONT, size: 16 },
            padding: 1.5,
            autoSkip: false,
            maxRotation: 0,
            minRotation: 0,
            callback: (v: any) => fmtTick(Number(v)),
          },
        },
        y: {
          type: 'linear',
          min: yMin,
          max: yMax,
          afterBuildTicks: (s: any) => {
            s.ticks = yTicks.map((v) => ({ value: v }));
          },
          afterFit: (s: any) => {
            s.width = yW;
          },
          grid: { drawOnChartArea: false, drawTicks: true, tickLength: 6, color: '#000', lineWidth: 1 },
          border: { display: false },
          ticks: {
            display: p.showY,
            color: '#000',
            font: { family: FONT, size: 16 },
            padding: 4,
            autoSkip: false,
            callback: (v: any) => fmtTick(Number(v)),
          },
        },
      },
    },
    plugins: [annot],
  } as any);
}

export default function App() {
  const r0 = useRef<HTMLCanvasElement>(null);
  const r1 = useRef<HTMLCanvasElement>(null);
  const r2 = useRef<HTMLCanvasElement>(null);

  useEffect(() => {
    const refs = [r0, r1, r2];
    const charts = panels.map((p, i) => makeChart(refs[i].current as HTMLCanvasElement, p));
    return () => charts.forEach((c) => c.destroy());
  }, []);

  const cs: React.CSSProperties = { position: 'absolute', left: 0, top: 0, width: CW, height: CH };
  return (
    <div style={{ position: 'absolute', left: 0, top: 0, width: CW, height: CH, background: '#fff' }}>
      <canvas ref={r0} width={CW} height={CH} style={cs} />
      <canvas ref={r1} width={CW} height={CH} style={cs} />
      <canvas ref={r2} width={CW} height={CH} style={cs} />
    </div>
  );
}
